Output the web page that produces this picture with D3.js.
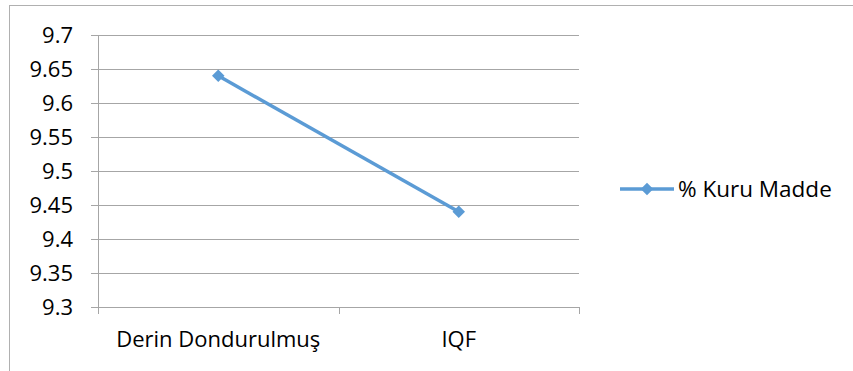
<!DOCTYPE html>
<html>
<head>
<meta charset="utf-8">
<script src="https://cdn.jsdelivr.net/npm/d3@7"></script>
<style>
  html, body { margin: 0; padding: 0; background: #fff; }
  svg { display: block; }
  text { font-family: "Open Sans", "Liberation Sans", sans-serif; fill: #000; }
</style>
</head>
<body>
<svg id="chart" width="853" height="371"></svg>
<script>
// Dry matter content by freezing method
const categories = ["Derin Dondurulmuş", "IQF"];
const seriesName = "% Kuru Madde";
const values = [9.64, 9.44];
const yTicks = [9.3, 9.35, 9.4, 9.45, 9.5, 9.55, 9.6, 9.65, 9.7];

const svg = d3.select("#chart");
const margin = { left: 98, right: 579, top: 35, bottom: 307 };
const blue = "#5b9bd5";
const grid = "#a6a6a6";
const fontSize = 22;

// chart frame (runs past the right and bottom edges)
svg.append("rect")
  .attr("x", 9.5).attr("y", 5.5)
  .attr("width", 900).attr("height", 400)
  .attr("fill", "none").attr("stroke", "#b0b0b0");

const x = d3.scaleBand().domain(categories).range([margin.left, margin.right]);
const y = d3.scaleLinear().domain([9.3, 9.7]).range([margin.bottom, margin.top]);

// horizontal gridlines with left tick stubs
svg.append("g").selectAll("line").data(yTicks).join("line")
  .attr("x1", margin.left - 7).attr("x2", margin.right)
  .attr("y1", d => Math.round(y(d)) + 0.5).attr("y2", d => Math.round(y(d)) + 0.5)
  .attr("stroke", grid).attr("stroke-width", 1);

// y axis line
svg.append("line")
  .attr("x1", margin.left + 0.5).attr("x2", margin.left + 0.5)
  .attr("y1", margin.top).attr("y2", margin.bottom + 7)
  .attr("stroke", grid);

// category boundary ticks
const bounds = [margin.left, ...categories.map(c => x(c) + x.bandwidth())];
svg.append("g").selectAll("line").data(bounds).join("line")
  .attr("x1", d => Math.round(d) + 0.5).attr("x2", d => Math.round(d) + 0.5)
  .attr("y1", margin.bottom).attr("y2", margin.bottom + 7)
  .attr("stroke", grid);

// y tick labels
svg.append("g").selectAll("text").data(yTicks).join("text")
  .attr("x", 73).attr("y", d => y(d))
  .attr("dy", "0.35em")
  .attr("text-anchor", "end")
  .attr("font-size", fontSize)
  .text(d => d3.format("")(d));

// category labels
svg.append("g").selectAll("text").data(categories).join("text")
  .attr("x", d => x(d) + x.bandwidth() / 2)
  .attr("y", 347)
  .attr("text-anchor", "middle")
  .attr("font-size", fontSize)
  .text(d => d);

// series line
const pts = categories.map((c, i) => [x(c) + x.bandwidth() / 2, y(values[i])]);
svg.append("path")
  .attr("d", d3.line()(pts))
  .attr("fill", "none").attr("stroke", blue).attr("stroke-width", 3.5);

const diamond = d3.symbol().type(d3.symbolDiamond2).size(100);
svg.append("g").selectAll("path").data(pts).join("path")
  .attr("transform", d => `translate(${d[0]},${d[1]})`)
  .attr("d", diamond)
  .attr("fill", blue);

// legend
const ly = 189;
svg.append("line")
  .attr("x1", 620).attr("x2", 674).attr("y1", ly).attr("y2", ly)
  .attr("stroke", blue).attr("stroke-width", 3.5);
svg.append("path")
  .attr("transform", `translate(647,${ly})`)
  .attr("d", diamond).attr("fill", blue);
svg.append("text")
  .attr("x", 678).attr("y", ly).attr("dy", "0.35em")
  .attr("font-size", 22.5)
  .text(seriesName);
</script>
</body>
</html>
